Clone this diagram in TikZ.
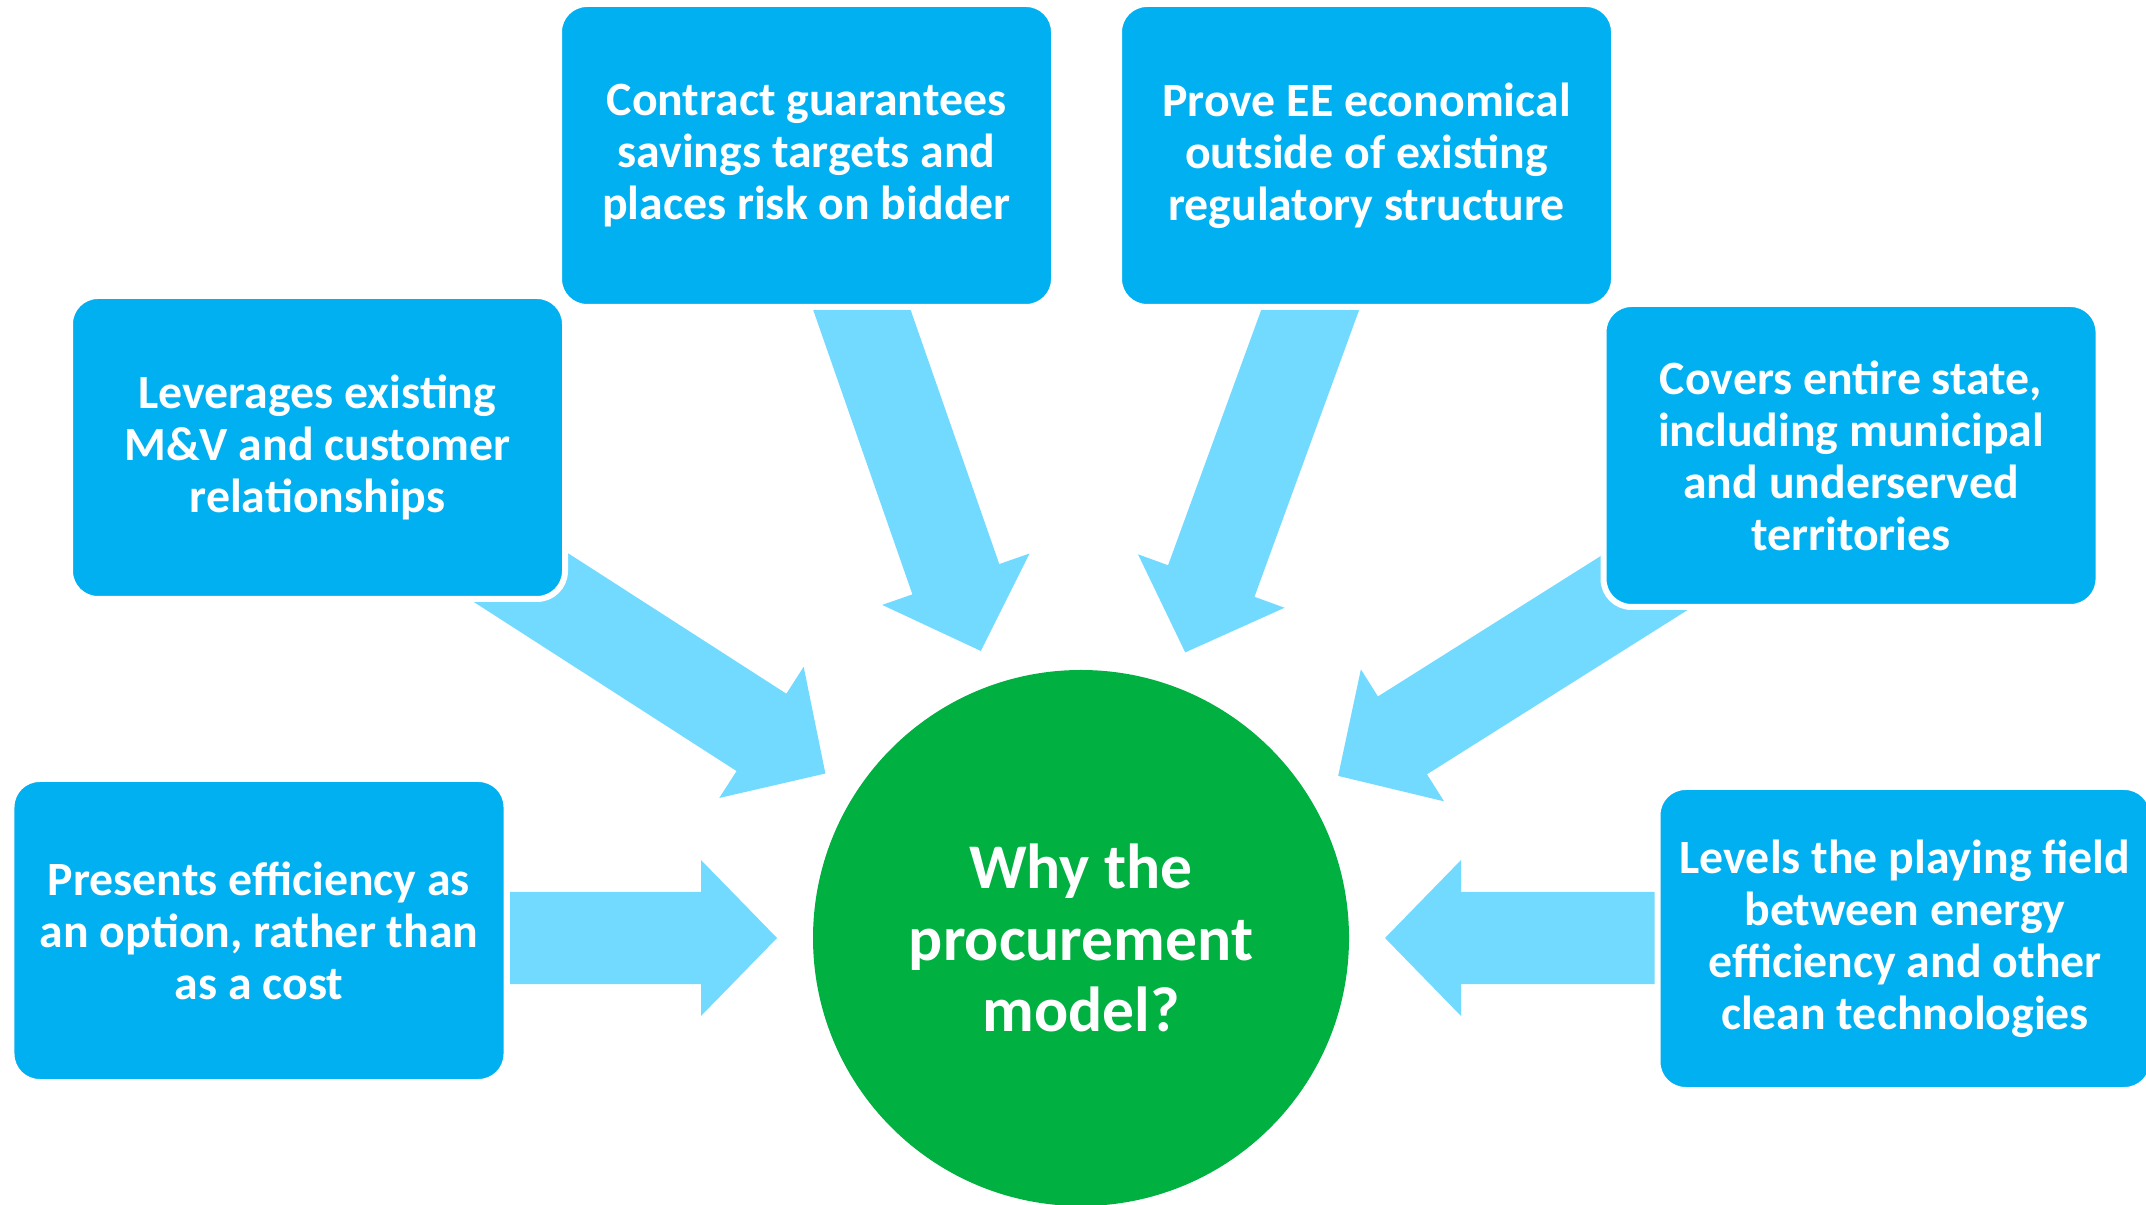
\documentclass[tikz,border=0pt]{standalone}
\usepackage{fontspec}
\setmainfont{Carlito}
\usetikzlibrary{calc,backgrounds}
\definecolor{boxblue}{RGB}{0,176,240}
\definecolor{arrowblue}{RGB}{114,218,255}
\definecolor{hubgreen}{RGB}{0,176,64}

\begin{document}
\begin{tikzpicture}[
    reason/.style={rectangle, rounded corners=0.28cm, fill=boxblue, draw=white, line width=0.06cm,
      minimum width=4.95cm, minimum height=3.03cm, inner sep=0pt, text=white, align=center,
      font=\bfseries\fontsize{13.6}{14.8}\selectfont},
    hubnode/.style={circle, fill=hubgreen, minimum size=5.36cm, inner sep=0pt, text=white,
      align=center, font=\bfseries\fontsize{18.1}{20.4}\selectfont},
    fat arrow/.style={fill=arrowblue}
  ]
  \useasboundingbox (0,0) rectangle (21.46,12.04);

  \node[hubnode] (hub) at (10.81,2.66) {Why the\\procurement\\model?};

  \node[reason] (contract) at (8.065,10.485) {Contract guarantees\\savings targets and\\places risk on bidder};
  \node[reason] (prove) at (13.665,10.485) {Prove EE economical\\outside of existing\\regulatory structure};
  \node[reason] (leverage) at (3.175,7.565) {Leverages existing\\M\&V and customer\\relationships};
  \node[reason] (covers) at (18.51,7.485) {Covers entire state,\\including municipal\\and underserved\\territories};
  \node[reason] (presents) at (2.59,2.735) {Presents efficiency as\\an option, rather than\\as a cost};
  \node[reason] (levels) at (19.05,2.655) {Levels the playing field\\between energy\\efficiency and other\\clean technologies};

  % tails start under the boxes, tips stop short of the circle
  \coordinate (tcontract) at (8.49,9.31);
  \coordinate (tprove) at (13.24,9.32);
  \coordinate (tleverage) at (4.78,6.54);
  \coordinate (tcovers) at (16.87,6.48);
  \coordinate (tpresents) at (5.10,2.66);
  \coordinate (tlevels) at (16.55,2.66);

  \begin{pgfonlayer}{background}
    \foreach \t in {tcontract,tprove,tleverage,tcovers,tpresents,tlevels}{
      \coordinate (tip) at ($(hub)!3.04cm!(\t)$);
      \coordinate (hb) at ($(tip)!0.76cm!(\t)$);
      \fill[fat arrow] ($(\t)!0.46cm!90:(tip)$) -- ($(hb)!0.46cm!90:(tip)$) -- ($(hb)!0.78cm!90:(tip)$)
        -- (tip) -- ($(hb)!0.78cm!-90:(tip)$) -- ($(hb)!0.46cm!-90:(tip)$) -- ($(\t)!0.46cm!-90:(tip)$) -- cycle;
    }
  \end{pgfonlayer}
\end{tikzpicture}
\end{document}
